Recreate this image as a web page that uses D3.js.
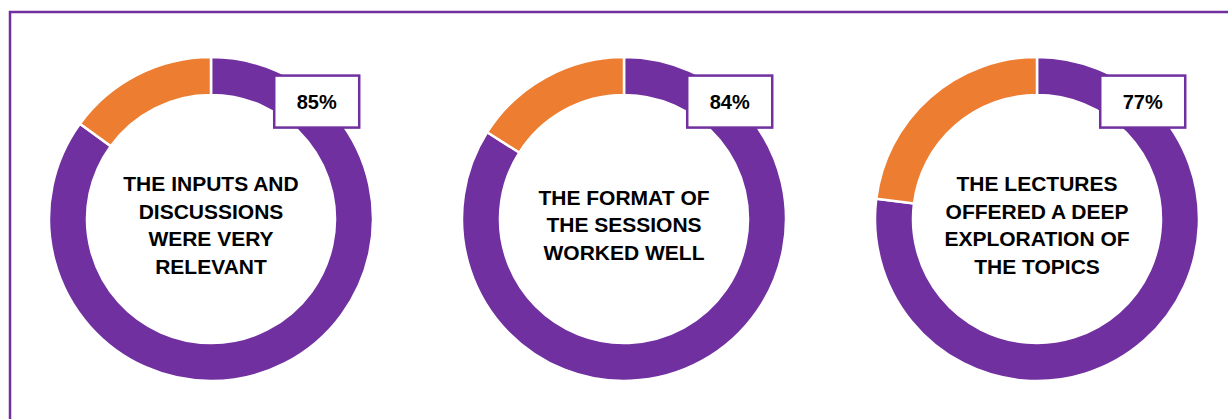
<!DOCTYPE html>
<html>
<head>
<meta charset="utf-8">
<script src="https://cdn.jsdelivr.net/npm/d3@7"></script>
<style>
  html, body { margin: 0; padding: 0; background: #fff; overflow: hidden; }
  text { font-family: "Liberation Sans", Arial, sans-serif; font-weight: bold; }
</style>
</head>
<body>
<svg id="chart" width="1228" height="419"></svg>
<script>
// survey statements and share of agreement
var statements = ["inputs", "format", "lectures"];
var agree_pct = [85, 84, 77];
var captions = [
  ["THE INPUTS AND", "DISCUSSIONS", "WERE VERY", "RELEVANT"],
  ["THE FORMAT OF", "THE SESSIONS", "WORKED WELL"],
  ["THE LECTURES", "OFFERED A DEEP", "EXPLORATION OF", "THE TOPICS"]
];

var purple = "#7030a0", orange = "#ed7d31";
var width = 1228, height = 419;
var cy = 219, r_out = 162, r_in = 124;

var svg = d3.select("#chart");

// frame (runs off the right and bottom edge like the original)
svg.append("rect")
  .attr("x", 10).attr("y", 12)
  .attr("width", width + 20).attr("height", height + 20)
  .attr("fill", "none")
  .attr("stroke", purple)
  .attr("stroke-width", 2.5);

var x = d3.scalePoint().domain(statements).range([211, 1037]);

var pie = d3.pie().sort(null).value(d => d);
var arc = d3.arc().innerRadius(r_in).outerRadius(r_out);

statements.forEach(function(key, i) {
  var g = svg.append("g")
    .attr("transform", "translate(" + x(key) + "," + cy + ")");

  var slices = pie([agree_pct[i], 100 - agree_pct[i]]);
  g.selectAll("path")
    .data(slices)
    .enter()
    .append("path")
    .attr("d", arc)
    .attr("fill", (d, j) => j == 0 ? purple : orange)
    .attr("stroke", "#fff")
    .attr("stroke-width", 2.5);

  // caption in the hole
  var lh = 27.5;
  var lines = captions[i];
  var y0 = 6 - (lines.length - 1) * lh / 2;
  g.append("text")
    .attr("text-anchor", "middle")
    .attr("font-size", 21)
    .attr("fill", "#000")
    .selectAll("tspan")
    .data(lines)
    .enter()
    .append("tspan")
    .attr("x", 0)
    .attr("y", (d, j) => y0 + j * lh)
    .attr("dy", "0.35em")
    .text(d => d);

  // percentage label box on the ring
  var ang = 42 * Math.PI / 180, rl = 158;
  var lx = Math.sin(ang) * rl, ly = -Math.cos(ang) * rl;
  var bw = 85, bh = 52;
  var lab = g.append("g").attr("transform", "translate(" + lx + "," + ly + ")");
  lab.append("rect")
    .attr("x", -bw / 2).attr("y", -bh / 2)
    .attr("width", bw).attr("height", bh)
    .attr("fill", "#fff")
    .attr("stroke", purple)
    .attr("stroke-width", 2.5);
  lab.append("text")
    .attr("text-anchor", "middle")
    .attr("dy", "0.35em")
    .attr("font-size", 20)
    .attr("fill", "#000")
    .text(agree_pct[i] + "%");
});
</script>
</body>
</html>
